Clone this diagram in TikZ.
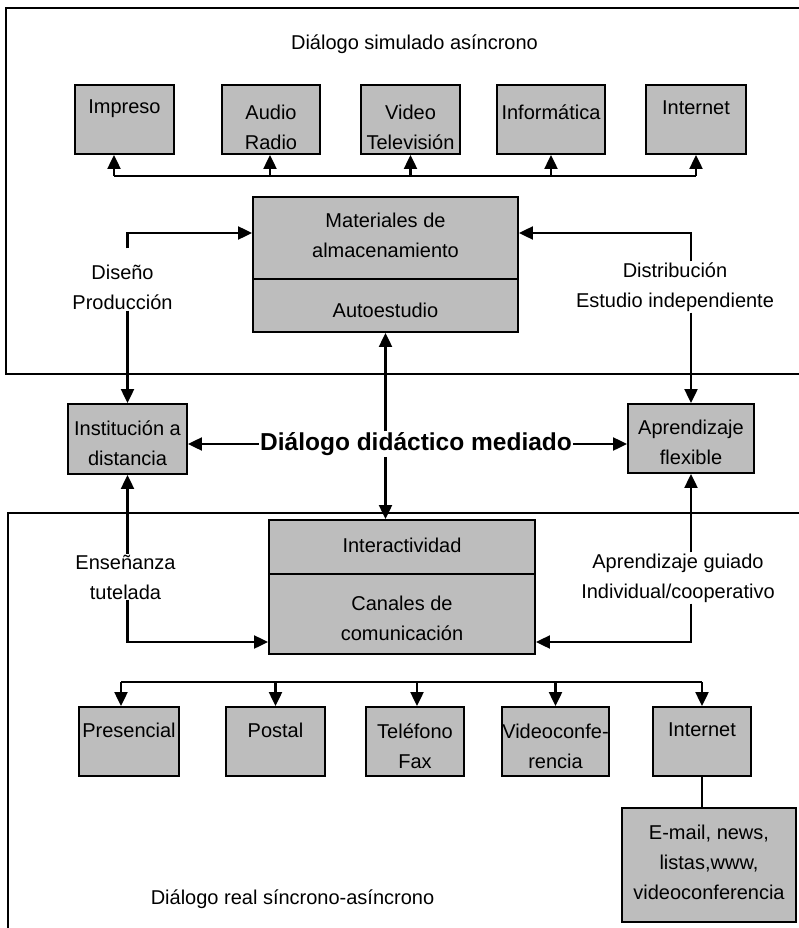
\documentclass[tikz,border=0pt]{standalone}
\usepackage{fontspec}
\setmainfont{Liberation Sans}
\usetikzlibrary{arrows.meta,calc}
\begin{document}
\begin{tikzpicture}[x=1pt,y=-1pt,
  box/.style={draw=black, line width=1.9pt, fill=black!26, inner sep=0pt},
  txt/.style={align=center, inner sep=1pt, font=\fontsize{20}{30}\selectfont},
  arr/.style={line width=2.2pt, -{Triangle[length=14pt,width=13pt]}},
  ln/.style={line width=2.2pt},
  panel/.style={line width=1.7pt}]
\useasboundingbox (0,0) rectangle (799,928);

% panels
\draw[panel] (799,8) -- (6,8) -- (6,374) -- (799,374);
\draw[panel] (799,513) -- (8,513) -- (8,928);

% top boxes
\node[box, minimum width=99pt, minimum height=69pt] (imp) at (124.5,119.5) {};
\node[box, minimum width=98pt, minimum height=69pt] (aud) at (271,119.5) {};
\node[box, minimum width=99pt, minimum height=69pt] (vid) at (410.5,119.5) {};
\node[box, minimum width=108pt, minimum height=69pt] (inf) at (551,119.5) {};
\node[box, minimum width=100pt, minimum height=69pt] (intT) at (696,119.5) {};
\node[txt] (timp) at (124.5,109) {Impreso};
\node[txt] (taud) at (271,127) {Audio\\Radio};
\node[txt] (tvid) at (410.5,127) {Video\\Televisión};
\node[txt] (tinf) at (551,112.5) {Informática};
\node[txt] (tintT) at (696,108) {Internet};

% materiales box
\node[box, minimum width=265pt, minimum height=82pt] (matU) at (385.5,238) {};
\node[box, minimum width=265pt, minimum height=53pt] (matL) at (385.5,305.5) {};
\node[txt] (tmatU) at (385.5,235) {Materiales de\\almacenamiento};
\node[txt] (tmatL) at (385.5,310) {Autoestudio};

% middle boxes
\node[box, minimum width=119pt, minimum height=70pt] (inst) at (127.5,439) {};
\node[box, minimum width=126pt, minimum height=69pt] (apf) at (691,438.5) {};
\node[txt] (tinst) at (127.5,443) {Institución a\\distancia};
\node[txt] (tapf) at (691,442) {Aprendizaje\\flexible};
\node[inner sep=1pt, font=\fontsize{24.5}{28}\selectfont\bfseries] (dd) at (416,444) {Diálogo didáctico mediado};

% interactividad box
\node[box, minimum width=266pt, minimum height=54pt] (interU) at (402,547) {};
\node[box, minimum width=266pt, minimum height=80pt] (canL) at (402,614) {};
\node[txt] (tinterU) at (402,545) {Interactividad};
\node[txt] (tcanL) at (402,618) {Canales de\\comunicación};

% bottom boxes
\node[box, minimum width=100pt, minimum height=69pt] (pres) at (129,741.5) {};
\node[box, minimum width=99pt, minimum height=69pt] (post) at (275.5,741.5) {};
\node[box, minimum width=98pt, minimum height=69pt] (tel) at (415,741.5) {};
\node[box, minimum width=107pt, minimum height=69pt] (vcf) at (555.5,741.5) {};
\node[box, minimum width=98pt, minimum height=69pt] (intB) at (702,741.5) {};
\node[box, minimum width=174pt, minimum height=114pt] (email) at (709,865) {};
\node[txt] (tpres) at (129,730) {Presencial};
\node[txt] (tpost) at (275.5,730) {Postal};
\node[txt] (ttel) at (415,746) {Teléfono\\Fax};
\node[txt] (tvcf) at (555.5,746) {Videoconfe-\\rencia};
\node[txt] (tintB) at (702,730) {Internet};
\node[txt] (temail) at (709,862) {E-mail, news,\\listas,www,\\videoconferencia};

% labels
\node[txt] (t1) at (414.5,44) {Diálogo simulado asíncrono};
\node[txt] (t2) at (292.5,899) {Diálogo real síncrono-asíncrono};
\node[txt] (dis) at (122.5,287) {Diseño\\Producción};
\node[txt] (dist) at (675,287) {Distribución\\Estudio independiente};
\node[txt] (ens) at (125.5,577) {Enseñanza\\tutelada};
\node[txt] (apg) at (678,578) {Aprendizaje guiado\\Individual/cooperativo};

% top bus
\coordinate (tb) at (114,176);
\draw[ln] (tb) -- (tb -| intT.south);
\draw[arr] (tb) -- (tb |- imp.south);
\draw[arr] ([xshift=-1pt]aud.south |- tb) -- ([xshift=-1pt]aud.south);
\draw[arr] (vid.south |- tb) -- (vid.south);
\draw[arr] (inf.south |- tb) -- (inf.south);
\draw[arr] (intT.south |- tb) -- (intT.south);

% bottom bus
\coordinate (bb) at (121,682);
\draw[ln] (bb) -- (bb -| intB.north);
\draw[arr] (bb) -- (bb |- pres.north);
\draw[arr] (post.north |- bb) -- (post.north);
\draw[arr] ([xshift=2pt]tel.north |- bb) -- ([xshift=2pt]tel.north);
\draw[arr] (vcf.north |- bb) -- (vcf.north);
\draw[arr] (intB.north |- bb) -- (intB.north);
\draw[ln] (intB.south) -- (intB.south |- email.north);

% side connectors
\coordinate (d1) at ([yshift=15pt]dis.north);
\draw[arr] (d1 -| inst.north) |- ([yshift=5pt]matU.west);
\draw[arr] (dis.south -| inst.north) -- (inst.north);
\draw[arr] (dist.north -| apf.north) |- ([yshift=5pt]matU.east);
\draw[arr] (dist.south -| apf.north) -- (apf.north);
\draw[arr] (ens.north -| inst.south) -- (inst.south);
\draw[arr] (ens.south -| inst.south) |- ([yshift=-28pt]canL.west);
\draw[arr] (apg.north -| apf.south) -- (apf.south);
\draw[arr] (apg.south -| apf.south) |- ([yshift=-28pt]canL.east);

% central connectors
\draw[arr] (dd.north -| matL.south) -- (matL.south);
\draw[arr] (dd.south -| matL.south) -- (interU.north -| matL.south);
\draw[arr] (dd.west) -- (dd.west -| inst.east);
\draw[arr] (dd.east) -- (dd.east -| apf.west);
\end{tikzpicture}
\end{document}
